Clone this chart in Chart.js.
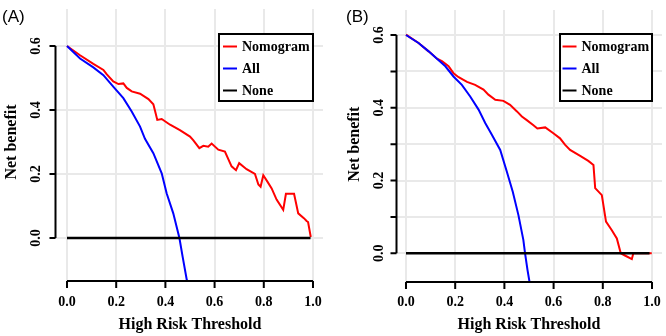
<!DOCTYPE html>
<html><head><meta charset="utf-8">
<script src="https://cdn.jsdelivr.net/npm/chart.js@4.4.1/dist/chart.umd.min.js"></script>
<style>
html,body{margin:0;padding:0;background:#fff;}
#wrap{position:relative;width:666px;height:336px;background:#fff;}
.pane{position:absolute;top:0;width:333px;height:336px;}
canvas{display:block;}
</style></head><body>
<div id="wrap">
<div class="pane" style="left:0"><canvas id="cA" width="333" height="336"></canvas></div>
<div class="pane" style="left:333px"><canvas id="cB" width="333" height="336"></canvas></div>
</div>
<script>
// ---------- data ----------
const seriesLabels = ["Nomogram", "All", "None"];
const seriesColors = ["#ff0000", "#0000ff", "#000000"];
const xTickValues = [0, 0.2, 0.4, 0.6, 0.8, 1.0];
const xTickLabels = ["0.0", "0.2", "0.4", "0.6", "0.8", "1.0"];
const yTickValuesA = [0, 0.2, 0.4, 0.6];
const yTickValuesB = [0, 0.1, 0.2, 0.3, 0.4, 0.5, 0.6];
const yTickLabels = ["0.0", "0.2", "0.4", "0.6"];
const yLabelValues = [0, 0.2, 0.4, 0.6];
const xTitle = "High Risk Threshold";
const yTitle = "Net benefit";

// Panel A
const thrA_nomogram = [0, .053, .107, .148, .161, .188, .209, .229, .243, .263, .297, .331, .351, .358, .367, .385, .419, .459, .5, .513, .538, .554, .574, .588, .615, .642, .669, .687, .700, .730, .764, .778, .787, .798, .814, .832, .852, .879, .890, .923, .940, .963, .974, .980, .991];
const nbA_nomogram  = [.6, .571, .544, .525, .512, .489, .481, .483, .469, .458, .451, .434, .418, .397, .369, .372, .354, .337, .317, .306, .281, .288, .285, .295, .276, .27, .224, .212, .234, .215, .2, .167, .16, .196, .177, .155, .12, .088, .138, .138, .077, .062, .053, .05, .003];
const thrA_all = [0, .053, .107, .148, .188, .229, .263, .297, .317, .351, .385, .405, .432, .457, .470, .487, .490];
const nbA_all  = [.6, .561, .533, .509, .473, .437, .395, .348, .31, .265, .202, .14, .077, 0, -.058, -.131, -.137];
const thrA_none = [0, 0.99];
const nbA_none  = [0, 0];

// Panel B
const thrB_nomogram = [0, .051, .092, .126, .146, .173, .193, .214, .248, .281, .315, .335, .363, .396, .423, .451, .471, .491, .518, .534, .566, .599, .626, .647, .667, .708, .741, .762, .769, .796, .813, .836, .857, .873, .890, .918, .924, .999];
const nbB_nomogram  = [.601, .578, .555, .535, .528, .514, .495, .484, .471, .463, .45, .436, .422, .419, .408, .39, .376, .366, .352, .343, .346, .33, .316, .298, .284, .268, .254, .243, .179, .16, .087, .064, .041, 0, -.006, -.016, 0, 0];
const thrB_all = [0, .051, .092, .126, .160, .193, .227, .261, .295, .322, .349, .383, .410, .434, .457, .477, .484, .494, .503];
const nbB_all  = [.6, .578, .555, .535, .514, .486, .463, .431, .395, .358, .326, .284, .224, .169, .105, .037, 0, -.046, -.082];
const thrB_none = [0, 0.99];
const nbB_none  = [0, 0];

// ---------- helpers ----------
const zip = (xs, ys) => xs.map((x, i) => ({x: x, y: ys[i]}));
const SERIF = '"Liberation Serif", "Times New Roman", serif';

function makeDatasets(series) {
  return series.map((s, i) => ({
    label: seriesLabels[i],
    data: zip(s[0], s[1]),
    borderColor: seriesColors[i],
    backgroundColor: seriesColors[i],
    borderWidth: i === 2 ? 2.5 : 2,
    pointRadius: 0,
    tension: 0,
    fill: false,
    order: 2 - i
  }));
}

function rAxesPlugin(p) {
  return {
    id: 'rAxes',
    afterDraw(chart) {
      const ctx = chart.ctx, xs = chart.scales.x, ys = chart.scales.y, ca = chart.chartArea;
      ctx.save();
      ctx.strokeStyle = '#000';
      ctx.fillStyle = '#000';
      ctx.lineWidth = 2;
      // y axis
      const ax = ca.left + 0.5;
      ctx.beginPath();
      ctx.moveTo(ax, ys.getPixelForValue(0));
      ctx.lineTo(ax, ys.getPixelForValue(0.6));
      p.yTicks.forEach(v => {
        const y = ys.getPixelForValue(v);
        ctx.moveTo(ax - 6, y); ctx.lineTo(ax, y);
      });
      // x axis
      const ay = ca.bottom - 1;
      ctx.moveTo(xs.getPixelForValue(0), ay);
      ctx.lineTo(xs.getPixelForValue(1), ay);
      xTickValues.forEach(v => {
        const x = xs.getPixelForValue(v);
        ctx.moveTo(x, ay); ctx.lineTo(x, ay + 7);
      });
      ctx.stroke();
      // tick labels
      ctx.font = 'bold 14px ' + SERIF;
      ctx.textAlign = 'center';
      ctx.textBaseline = 'middle';
      xTickValues.forEach((v, i) => {
        ctx.fillText(xTickLabels[i], xs.getPixelForValue(v), 302);
      });
      yLabelValues.forEach((v, i) => {
        ctx.save();
        ctx.translate(ca.left - p.yLabOff, ys.getPixelForValue(v));
        ctx.rotate(-Math.PI / 2);
        ctx.fillText(yTickLabels[i], 0, 0);
        ctx.restore();
      });
      // titles
      ctx.font = 'bold 16px ' + SERIF;
      ctx.fillText(xTitle, (xs.getPixelForValue(0) + xs.getPixelForValue(1)) / 2, 325);
      ctx.save();
      ctx.translate(p.yTitleX, (ys.getPixelForValue(0) + ys.getPixelForValue(0.6)) / 2);
      ctx.rotate(-Math.PI / 2);
      ctx.fillText(yTitle, 0, 0);
      ctx.restore();
      // panel tag
      ctx.font = '17px "Liberation Sans", Arial, sans-serif';
      ctx.textAlign = 'left';
      ctx.fillText(p.tag, p.tagX, 17);
      // legend
      const bx1 = xs.getPixelForValue(1), bx0 = bx1 - p.boxW, by0 = 34, by1 = 101;
      ctx.fillStyle = '#fff';
      ctx.fillRect(bx0, by0, bx1 - bx0, by1 - by0);
      ctx.strokeStyle = '#000';
      ctx.lineWidth = 2;
      ctx.strokeRect(bx0, by0, bx1 - bx0, by1 - by0);
      const rows = [46.5, 68.5, 90.5];
      ctx.font = 'bold 14px ' + SERIF;
      ctx.textBaseline = 'middle';
      chart.data.datasets.forEach((d, i) => {
        ctx.strokeStyle = d.borderColor;
        ctx.lineWidth = 2;
        ctx.beginPath();
        ctx.moveTo(bx0 + p.sampleL, rows[i]);
        ctx.lineTo(bx0 + p.sampleL + 14, rows[i]);
        ctx.stroke();
        ctx.fillStyle = '#000';
        ctx.fillText(d.label, bx0 + p.textL, rows[i] + 0.5);
      });
      ctx.restore();
    }
  };
}

function makeChart(id, series, p) {
  return new Chart(document.getElementById(id), {
    type: 'line',
    data: { datasets: makeDatasets(series) },
    options: {
      responsive: false,
      animation: false,
      devicePixelRatio: 1,
      layout: { padding: p.pad },
      plugins: { legend: { display: false }, tooltip: { enabled: false } },
      scales: {
        x: {
          type: 'linear', position: 'bottom', min: p.xMin, max: p.xMax,
          grid: { color: '#e9e9e9', lineWidth: 2, drawTicks: false },
          border: { display: false },
          ticks: { display: false },
          afterBuildTicks(s) { s.ticks = xTickValues.map(v => ({ value: v })); },
          afterFit(s) { s.height = 0; }
        },
        y: {
          type: 'linear', position: 'left', min: p.yMin, max: p.yMax,
          grid: { color: '#e9e9e9', lineWidth: 2, drawTicks: false },
          border: { display: false },
          ticks: { display: false },
          afterBuildTicks(s) { s.ticks = p.yTicks.map(v => ({ value: v })); },
          afterFit(s) { s.width = 0; }
        }
      }
    },
    plugins: [rAxesPlugin(p)]
  });
}

makeChart('cA', [[thrA_nomogram, nbA_nomogram], [thrA_all, nbA_all], [thrA_none, nbA_none]], {
  pad: { left: 55, right: 10, top: 9, bottom: 54 },
  xMin: -0.0488, xMax: 1.0407, yMin: -0.1375, yMax: 0.7156,
  yTicks: yTickValuesA, yLabOff: 19, yTitleX: 12, tag: "(A)", tagX: 2,
  boxW: 94, sampleL: 4, textL: 23
});
makeChart('cB', [[thrB_nomogram, nbB_nomogram], [thrB_all, nbB_all], [thrB_none, nbB_none]], {
  pad: { left: 63, right: 4, top: 10, bottom: 53 },
  xMin: -0.0406, xMax: 1.0406, yMin: -0.0816, yMax: 0.6687,
  yTicks: yTickValuesB, yLabOff: 17, yTitleX: 22, tag: "(B)", tagX: 13,
  boxW: 92, sampleL: 2.5, textL: 21.5
});
</script>
</body></html>
